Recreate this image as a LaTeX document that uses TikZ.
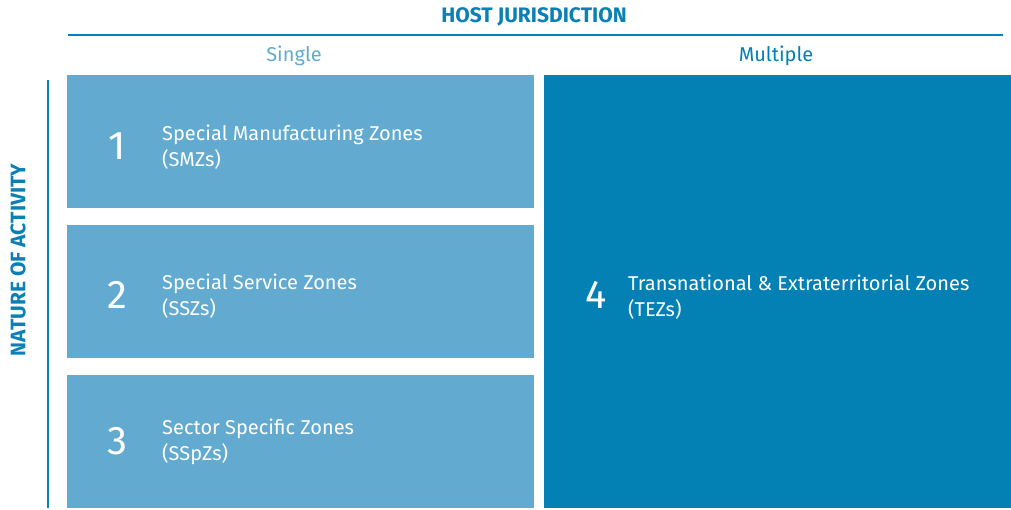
\documentclass[tikz,border=0pt]{standalone}
\usepackage{fontspec}
\setmainfont{Fira Sans}
\definecolor{lightb}{HTML}{62AAD0}
\definecolor{darkb}{HTML}{0380B4}
\definecolor{headb}{HTML}{0A80B4}
\begin{document}
\begin{tikzpicture}[x=1pt,y=-1pt,
  num/.style={text=white, font=\fontsize{40}{42}\selectfont, inner sep=0pt},
  lbl/.style={text=white, font=\fontsize{20}{26}\selectfont, align=left, anchor=west, inner sep=0pt},
  head/.style={font=\fontsize{20}{22}\selectfont, inner sep=0pt},
  bighead/.style={font=\bfseries\fontsize{21}{22}\selectfont, inner sep=0pt, text=headb}]
\useasboundingbox (0,0) rectangle (1011,510);
\node[bighead] (title) at (534,17) {HOST JURISDICTION};
\coordinate (hl) at (68,35); \coordinate (hr) at (1003,35);
\draw[headb, line width=2pt] (hl) -- (hr);
\node[head, text=lightb] (single) at (294,56) {Single};
\node[head, text=darkb] (multiple) at (776,56) {Multiple};
\coordinate (vt) at (48,80); \coordinate (vb) at (48,508);
\draw[headb, line width=2pt] (vt) -- (vb);
\node[bighead, rotate=90] (nature) at (18,260) {NATURE OF ACTIVITY};
\fill[lightb] (67,75) rectangle (534,208);
\fill[lightb] (67,225) rectangle (534,358);
\fill[lightb] (67,375) rectangle (534,508);
\fill[darkb] (544,75) rectangle (1011,508);
\node[num] (n1) at (117,146) {1};
\node[lbl] (t1) at (162,147) {Special Manufacturing Zones\\(SMZs)};
\node[num] (n2) at (117,295) {2};
\node[lbl] (t2) at (162,296) {Special Service Zones\\(SSZs)};
\node[num] (n3) at (117,441) {3};
\node[lbl] (t3) at (162,442) {Sector Specific Zones\\(SSpZs)};
\node[num] (n4) at (596,295) {4};
\node[lbl] (t4) at (628,297) {Transnational \& Extraterritorial Zones\\(TEZs)};
\end{tikzpicture}
\end{document}
